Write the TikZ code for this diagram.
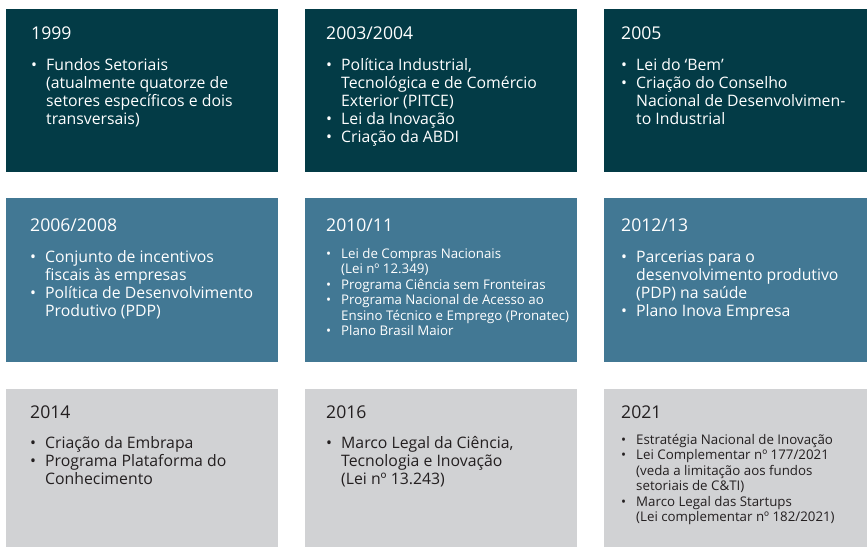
\documentclass[tikz,border=0pt]{standalone}
\usepackage{fontspec}
\setmainfont{Open Sans}
\usepackage{xcolor}
\definecolor{petrol}{HTML}{033B46}
\definecolor{steel}{HTML}{427894}
\definecolor{pale}{HTML}{D1D2D4}
\definecolor{ink}{HTML}{231F20}
\newcommand{\yrfont}{\fontsize{17.6}{18}\selectfont}
\newcommand{\bodyfont}{\fontsize{15.8}{18}\selectfont}
\newcommand{\smallbody}{\fontsize{13.3}{15.5}\selectfont}
\newcommand{\bul}{\makebox[15pt][l]{\textbullet}}
\newcommand{\cont}{\\\hspace*{15pt}}
\newcommand{\nxt}{\\\bul}
\newcommand{\itemsof}[1]{\parbox[t]{300pt}{#1}}

\begin{document}
\begin{tikzpicture}[x=1pt, y=-1pt,
  panel/.style={rectangle, inner sep=0pt, anchor=north west, minimum height=163pt},
  dark/.style={panel, fill=petrol},
  mid/.style={panel, fill=steel},
  light/.style={panel, fill=pale},
  year/.style={anchor=base west, inner sep=0pt, font=\yrfont},
  items/.style={anchor=base west, inner sep=0pt, font=\bodyfont},
  smallitems/.style={anchor=base west, inner sep=0pt, font=\smallbody}]
  \useasboundingbox (0,0) rectangle (867,547);

  % Row 1 (dark)
  \node[dark, minimum width=272pt] (p1999) at (6,9) {};
  \node[year, white] (y1999) at (31,39) {1999};
  \node[items, white] (l1999) at (31,70) {\itemsof{\bul Fundos Setoriais\cont(atualmente quatorze de\cont setores específicos e dois\cont transversais)}};

  \node[dark, minimum width=272pt] (p2003) at (305,9) {};
  \node[year, white] (y2003) at (326,39) {2003/2004};
  \node[items, white] (l2003) at (326,70) {\itemsof{\bul Política Industrial,\cont Tecnológica e de Comércio\cont Exterior (PITCE)\nxt Lei da Inovação\nxt Criação da ABDI}};

  \node[dark, minimum width=263pt] (p2005) at (604,9) {};
  \node[year, white] (y2005) at (621,39) {2005};
  \node[items, white] (l2005) at (621,70) {\itemsof{\bul Lei do ‘Bem’\nxt Criação do Conselho\cont Nacional de Desenvolvimen-\cont to Industrial}};

  % Row 2 (mid blue)
  \node[mid, minimum width=272pt, minimum height=164pt] (p2006) at (6,198) {};
  \node[year, white] (y2006) at (30,231) {2006/2008};
  \node[items, white] (l2006) at (30,262) {\itemsof{\bul Conjunto de incentivos\cont fiscais às empresas\nxt Política de Desenvolvimento\cont Produtivo (PDP)}};

  \node[mid, minimum width=272pt, minimum height=164pt] (p2010) at (305,198) {};
  \node[year, white] (y2010) at (326,231) {2010/11};
  \node[smallitems, white] (l2010) at (326,258) {\itemsof{\bul Lei de Compras Nacionais\cont(Lei nº 12.349)\nxt Programa Ciência sem Fronteiras\nxt Programa Nacional de Acesso ao\cont Ensino Técnico e Emprego (Pronatec)\nxt Plano Brasil Maior}};

  \node[mid, minimum width=263pt, minimum height=164pt] (p2012) at (604,198) {};
  \node[year, white] (y2012) at (621,231) {2012/13};
  \node[items, white] (l2012) at (621,262) {\itemsof{\bul Parcerias para o\cont desenvolvimento produtivo\cont (PDP) na saúde\nxt Plano Inova Empresa}};

  % Row 3 (gray)
  \node[light, minimum width=272pt, minimum height=158pt] (p2014) at (6,389) {};
  \node[year, ink] (y2014) at (30,418) {2014};
  \node[items, ink] (l2014) at (30,448) {\itemsof{\bul Criação da Embrapa\nxt Programa Plataforma do\cont Conhecimento}};

  \node[light, minimum width=272pt, minimum height=158pt] (p2016) at (305,389) {};
  \node[year, ink] (y2016) at (326,418) {2016};
  \node[items, ink] (l2016) at (326,448) {\itemsof{\bul Marco Legal da Ciência,\cont Tecnologia e Inovação\cont (Lei nº 13.243)}};

  \node[light, minimum width=263pt, minimum height=158pt] (p2021) at (604,389) {};
  \node[year, ink] (y2021) at (621,418) {2021};
  \node[smallitems, ink] (l2021) at (621,444) {\itemsof{\bul Estratégia Nacional de Inovação\nxt Lei Complementar nº 177/2021\cont (veda a limitação aos fundos\cont setoriais de C\&TI)\nxt Marco Legal das Startups\cont (Lei complementar nº 182/2021)}};
\end{tikzpicture}
\end{document}
